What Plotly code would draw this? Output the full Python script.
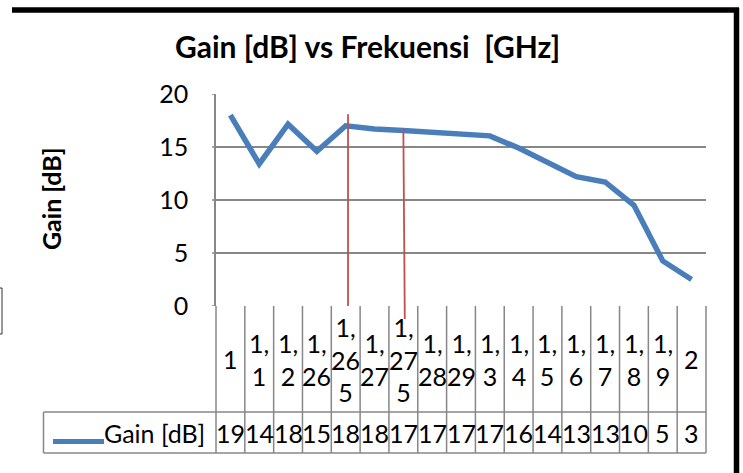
import plotly.graph_objects as go

# ---------------- data ----------------
categories = ["1", "1,1", "1,2", "1,26", "1,265", "1,27", "1,275", "1,28", "1,29",
              "1,3", "1,4", "1,5", "1,6", "1,7", "1,8", "1,9", "2"]
gain_db = [18.0, 13.4, 17.15, 14.6, 17.0, 16.7, 16.55, 16.4, 16.2,
           16.05, 14.9, 13.5, 12.2, 11.7, 9.5, 4.25, 2.5]
table_values = ["19", "14", "18", "15", "18", "18", "17", "17", "17",
                "17", "16", "14", "13", "13", "10", "5", "3"]
series_name = "Gain [dB]"
title_text = "Gain [dB] vs Frekuensi  [GHz]"
y_ticks = [0, 5, 10, 15, 20]
marker_categories = ["1,265", "1,275"]
marker_tops = [18.1, 16.7]

# ---------------- layout constants ----------------
W, H = 743, 473
L, R, T, B = 216, 37, 94, 167
PW, PH = W - L - R, H - T - B
YMAX = 20.0

FONT = "Lato"
GRID = "#878787"
BLUE = "#4A7EBB"
RED = "#C0504D"
FS = 25


def px_x(px):  # pixel -> paper x
    return (px - L) / PW


def px_y(py):  # pixel -> paper y
    return (H - B - py) / PH


def wrap(label, n=2):
    return "<br>".join(label[i:i + n] for i in range(0, len(label), n))


fig = go.Figure()
fig.add_trace(go.Scatter(
    x=categories, y=gain_db, mode="lines", name=series_name,
    line=dict(color=BLUE, width=5.5), showlegend=False, hoverinfo="skip",
))

shapes = []
annotations = []

row1_bottom = px_y(412)
row2_bottom = px_y(453)
legend_left = px_x(43.5)

# table horizontal lines
for yv in (row1_bottom, row2_bottom):
    shapes.append(dict(type="line", xref="paper", yref="paper", x0=legend_left, x1=1,
                       y0=yv, y1=yv, line=dict(color=GRID, width=1.5)))
# legend cell left border
shapes.append(dict(type="line", xref="paper", yref="paper", x0=legend_left, x1=legend_left,
                   y0=row2_bottom, y1=row1_bottom, line=dict(color=GRID, width=1.5)))
# vertical category separators
n = len(categories)
for i in range(n + 1):
    xv = i / n
    shapes.append(dict(type="line", xref="paper", yref="paper", x0=xv, x1=xv,
                       y0=row2_bottom, y1=0, line=dict(color=GRID, width=1.5)))

# small outside tick marks on the value axis
for t in y_ticks:
    shapes.append(dict(type="line", xref="paper", yref="y", x0=px_x(212), x1=0,
                       y0=t, y1=t, line=dict(color=GRID, width=1.5)))

# category labels and table values (positioned on the category axis by index)
for i, (c, v) in enumerate(zip(categories, table_values)):
    annotations.append(dict(x=i, xref="x", y=(0 + row1_bottom) / 2, yref="paper",
                            text=wrap(c), showarrow=False, xanchor="center", yanchor="middle",
                            font=dict(family=FONT, size=FS, color="#000")))
    annotations.append(dict(x=i, xref="x", y=(row1_bottom + row2_bottom) / 2, yref="paper",
                            text=v, showarrow=False, xanchor="center", yanchor="middle",
                            font=dict(family=FONT, size=FS, color="#000")))

# legend key in table
ly = (row1_bottom + row2_bottom) / 2
shapes.append(dict(type="line", xref="paper", yref="paper", x0=px_x(53), x1=px_x(104),
                   y0=px_y(441.5), y1=px_y(441.5), line=dict(color=BLUE, width=5)))
annotations.append(dict(x=px_x(207), xref="paper", y=ly, yref="paper", text=series_name,
                        showarrow=False, xanchor="right", yanchor="middle",
                        font=dict(family=FONT, size=FS, color="#000")))

# y-axis title
annotations.append(dict(x=px_x(51), xref="paper", y=px_y(199), yref="paper",
                        text="<b>Gain [dB]</b>", textangle=-90, showarrow=False,
                        xanchor="center", yanchor="middle",
                        font=dict(family=FONT, size=25, color="#000")))

# red marker lines
i1 = categories.index(marker_categories[0])
i2 = categories.index(marker_categories[1])
shapes.append(dict(type="line", xref="x", yref="paper", x0=i1 + 0.08, x1=i1 + 0.08,
                   y0=0, y1=marker_tops[0] / YMAX, line=dict(color=RED, width=1.8)))
shapes.append(dict(type="line", xref="x", yref="paper", x0=i2, x1=i2 + 0.05,
                   y0=marker_tops[1] / YMAX, y1=px_y(319), line=dict(color=RED, width=1.8)))

# outer black frame (top and right)
shapes.append(dict(type="line", xref="paper", yref="paper", x0=px_x(12), x1=px_x(739),
                   y0=px_y(10), y1=px_y(10), line=dict(color="#000", width=5.5)))
shapes.append(dict(type="line", xref="paper", yref="paper", x0=px_x(736.5), x1=px_x(736.5),
                   y0=px_y(8), y1=px_y(480), line=dict(color="#000", width=5.5)))
# small box fragment on the left
shapes.append(dict(type="rect", xref="paper", yref="paper", x0=px_x(-5), x1=px_x(2),
                   y0=px_y(334), y1=px_y(288), line=dict(color="#333", width=1)))

fig.update_layout(
    width=W, height=H,
    margin=dict(l=L, r=R, t=T, b=B, pad=0, autoexpand=False),
    paper_bgcolor="white", plot_bgcolor="white",
    title=dict(text="<b>" + title_text + "</b>", xref="container", yref="container",
               x=367.5 / W, y=1 - 47 / H, xanchor="center", yanchor="middle",
               font=dict(family=FONT, size=30, color="#000")),
    xaxis=dict(type="category", range=[-0.5, n - 0.5], showticklabels=False,
               showgrid=False, zeroline=False, showline=False, ticks=""),
    yaxis=dict(range=[0, YMAX], tickvals=y_ticks, showgrid=True, gridcolor=GRID, gridwidth=1.5,
               zeroline=False, showline=True, linecolor=GRID, linewidth=1.5,
               ticks="outside", ticklen=21, tickcolor="rgba(0,0,0,0)", tickwidth=1,
               tickfont=dict(family=FONT, size=FS, color="#000")),
    shapes=shapes, annotations=annotations,
)

fig.write_html("out.html", config={"displayModeBar": False},
               post_script="document.body.style.margin='0';")
